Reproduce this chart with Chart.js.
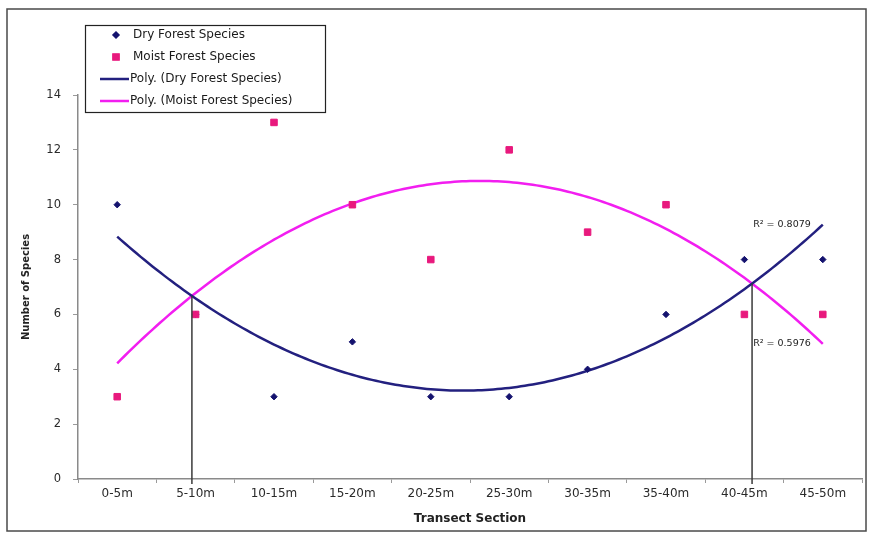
<!DOCTYPE html>
<html>
<head>
<meta charset="utf-8">
<title>Species by transect section</title>
<script src="https://cdn.jsdelivr.net/npm/chart.js@4.4.1/dist/chart.umd.min.js"></script>
<style>
  html, body { margin: 0; padding: 0; background: #fff; }
  #wrap { position: relative; width: 871px; height: 538px; }
</style>
</head>
<body>
<div id="wrap"><canvas id="myChart"></canvas></div>
<script>
const sections = ['0-5m', '5-10m', '10-15m', '15-20m', '20-25m', '25-30m', '30-35m', '35-40m', '40-45m', '45-50m'];
const drySpecies = [10, 6, 3, 5, 3, 3, 4, 6, 8, 8];
const moistSpecies = [3, 6, 13, 10, 8, 12, 9, 10, 6, 6];
const yMax = 14;
const yStep = 2;

const DRY = '#14126e';
const DRY_LINE = '#23207f';
const MOIST = '#e8197d';
const MOIST_LINE = '#f21ef0';
const FONT = '"DejaVu Sans", Verdana, sans-serif';
const DRY_R = 3.2;
const MOIST_R = 4.6;

// least squares 2nd order trendline (like excel's "Poly." trendline), x = 1..n
function polyFit(ys) {
  const n = ys.length;
  let s1 = 0, s2 = 0, s3 = 0, s4 = 0, sy = 0, sxy = 0, sx2y = 0;
  ys.forEach((y, i) => {
    const x = i + 1;
    s1 += x; s2 += x * x; s3 += x * x * x; s4 += x * x * x * x;
    sy += y; sxy += x * y; sx2y += x * x * y;
  });
  const m = [[n, s1, s2, sy], [s1, s2, s3, sxy], [s2, s3, s4, sx2y]];
  for (let c = 0; c < 3; c++) {
    for (let r = c + 1; r < 3; r++) {
      const f = m[r][c] / m[c][c];
      for (let k = c; k < 4; k++) m[r][k] -= f * m[c][k];
    }
  }
  const k2 = m[2][3] / m[2][2];
  const k1 = (m[1][3] - m[1][2] * k2) / m[1][1];
  const k0 = (m[0][3] - m[0][1] * k1 - m[0][2] * k2) / m[0][0];
  const f = x => k0 + k1 * x + k2 * x * x;
  const mean = sy / n;
  let ssTot = 0, ssRes = 0;
  ys.forEach((y, i) => {
    ssTot += (y - mean) ** 2;
    ssRes += (y - f(i + 1)) ** 2;
  });
  return { k0, k1, k2, f, r2: 1 - ssRes / ssTot };
}

const dryFit = polyFit(drySpecies);
const moistFit = polyFit(moistSpecies);

function curve(fit) {
  const pts = [];
  for (let x = 1; x <= sections.length + 1e-9; x += 0.05) pts.push({ x: x, y: fit.f(x) });
  return pts;
}

// x positions where the two trendlines cross
function crossings() {
  const a = dryFit.k2 - moistFit.k2, b = dryFit.k1 - moistFit.k1, c = dryFit.k0 - moistFit.k0;
  const d = Math.sqrt(b * b - 4 * a * c);
  return [(-b - d) / (2 * a), (-b + d) / (2 * a)].filter(x => x >= 1 && x <= sections.length);
}

const extras = {
  id: 'extras',
  afterDatasetsDraw(chart) {
    const { ctx, scales: { x, y }, chartArea } = chart;
    ctx.save();

    // drop lines from the crossing points
    ctx.strokeStyle = '#3a3a3a';
    ctx.lineWidth = 1.5;
    crossings().forEach(cx => {
      const px = x.getPixelForValue(cx);
      ctx.beginPath();
      ctx.moveTo(px, y.getPixelForValue(dryFit.f(cx)));
      ctx.lineTo(px, chartArea.bottom + 5);
      ctx.stroke();
    });

    // R² labels at the end of each trendline
    ctx.font = '9.5px ' + FONT;
    ctx.fillStyle = '#222';
    ctx.textAlign = 'right';
    ctx.textBaseline = 'middle';
    const last = sections.length;
    [dryFit, moistFit].forEach(fit => {
      ctx.fillText('R² = ' + fit.r2.toFixed(4), x.getPixelForValue(last) - 12, y.getPixelForValue(fit.f(last)));
    });

    // legend box
    ctx.fillStyle = '#fff';
    ctx.fillRect(85, 25, 240, 87);
    ctx.strokeStyle = '#222';
    ctx.lineWidth = 1.2;
    ctx.strokeRect(85.5, 25.5, 240, 87);
    ctx.font = '12px ' + FONT;
    ctx.textAlign = 'left';
    const rows = [
      { label: 'Dry Forest Species', y: 35, style: 'rectRot', radius: DRY_R, color: DRY },
      { label: 'Moist Forest Species', y: 57, style: 'rect', radius: MOIST_R, color: MOIST },
      { label: 'Poly. (Dry Forest Species)', y: 79, line: DRY_LINE },
      { label: 'Poly. (Moist Forest Species)', y: 101, line: MOIST_LINE }
    ];
    rows.forEach(r => {
      if (r.line) {
        ctx.strokeStyle = r.line;
        ctx.lineWidth = 2.5;
        ctx.beginPath();
        ctx.moveTo(100, r.y);
        ctx.lineTo(129, r.y);
        ctx.stroke();
        ctx.fillStyle = '#1a1a1a';
        ctx.fillText(r.label, 130, r.y);
      } else {
        ctx.fillStyle = r.color;
        ctx.strokeStyle = r.color;
        Chart.helpers.drawPoint(ctx, { pointStyle: r.style, radius: r.radius, borderWidth: 1 }, 116, r.y);
        ctx.fillStyle = '#1a1a1a';
        ctx.fillText(r.label, 133, r.y);
      }
    });

    // outer frame
    ctx.strokeStyle = '#4a4a4a';
    ctx.lineWidth = 1.5;
    ctx.strokeRect(7, 9, 859, 522);
    ctx.restore();
  }
};

const ctx = document.getElementById('myChart');

new Chart(ctx, {
  type: 'scatter',
  data: {
    datasets: [
      {
        label: 'Moist Forest Species',
        data: moistSpecies.map((v, i) => ({ x: i + 1, y: v })),
        backgroundColor: MOIST,
        borderColor: MOIST,
        pointStyle: 'rect',
        pointRadius: MOIST_R,
        order: 0
      },
      {
        label: 'Dry Forest Species',
        data: drySpecies.map((v, i) => ({ x: i + 1, y: v })),
        backgroundColor: DRY,
        borderColor: DRY,
        pointStyle: 'rectRot',
        pointRadius: DRY_R,
        order: 1
      },
      {
        label: 'Poly. (Dry Forest Species)',
        data: curve(dryFit),
        showLine: true,
        borderColor: DRY_LINE,
        borderWidth: 2.5,
        pointRadius: 0,
        order: 2
      },
      {
        label: 'Poly. (Moist Forest Species)',
        data: curve(moistFit),
        showLine: true,
        borderColor: MOIST_LINE,
        borderWidth: 2.5,
        pointRadius: 0,
        order: 3
      }
    ]
  },
  options: {
    responsive: true,
    maintainAspectRatio: false,
    devicePixelRatio: 1,
    animation: false,
    layout: { padding: { top: 95, right: 9, left: 0, bottom: 6 } },
    plugins: {
      legend: { display: false },
      tooltip: { enabled: false }
    },
    scales: {
      x: {
        type: 'linear',
        min: 0.5,
        max: sections.length + 0.5,
        afterBuildTicks: scale => { scale.ticks = sections.map((s, i) => ({ value: i + 1 })); },
        afterFit: scale => { scale.height = 53; },
        grid: { display: true, drawOnChartArea: false, offset: true, tickLength: 4, color: '#9a9a9a' },
        border: { display: true, color: '#8a8a8a', width: 1.5 },
        ticks: {
          autoSkip: false,
          maxRotation: 0,
          padding: 4,
          color: '#2a2a2a',
          font: { family: FONT, size: 12 },
          callback: v => sections[v - 1]
        },
        title: {
          display: true,
          text: 'Transect Section',
          color: '#222',
          font: { family: FONT, size: 12, weight: 'bold' },
          padding: { top: 2, bottom: 6 }
        }
      },
      y: {
        min: 0,
        max: yMax,
        afterFit: scale => { scale.width = 78; },
        grid: { display: true, drawOnChartArea: false, tickLength: 5, color: '#9a9a9a' },
        border: { display: true, color: '#8a8a8a', width: 1.5 },
        ticks: {
          stepSize: yStep,
          padding: 12,
          color: '#2a2a2a',
          font: { family: FONT, size: 11.5 }
        },
        title: {
          display: true,
          text: 'Number of Species',
          color: '#222',
          font: { family: FONT, size: 10, weight: 'bold' },
          padding: { top: 20, bottom: 0 }
        }
      }
    }
  },
  plugins: [extras]
});
</script>
</body>
</html>
